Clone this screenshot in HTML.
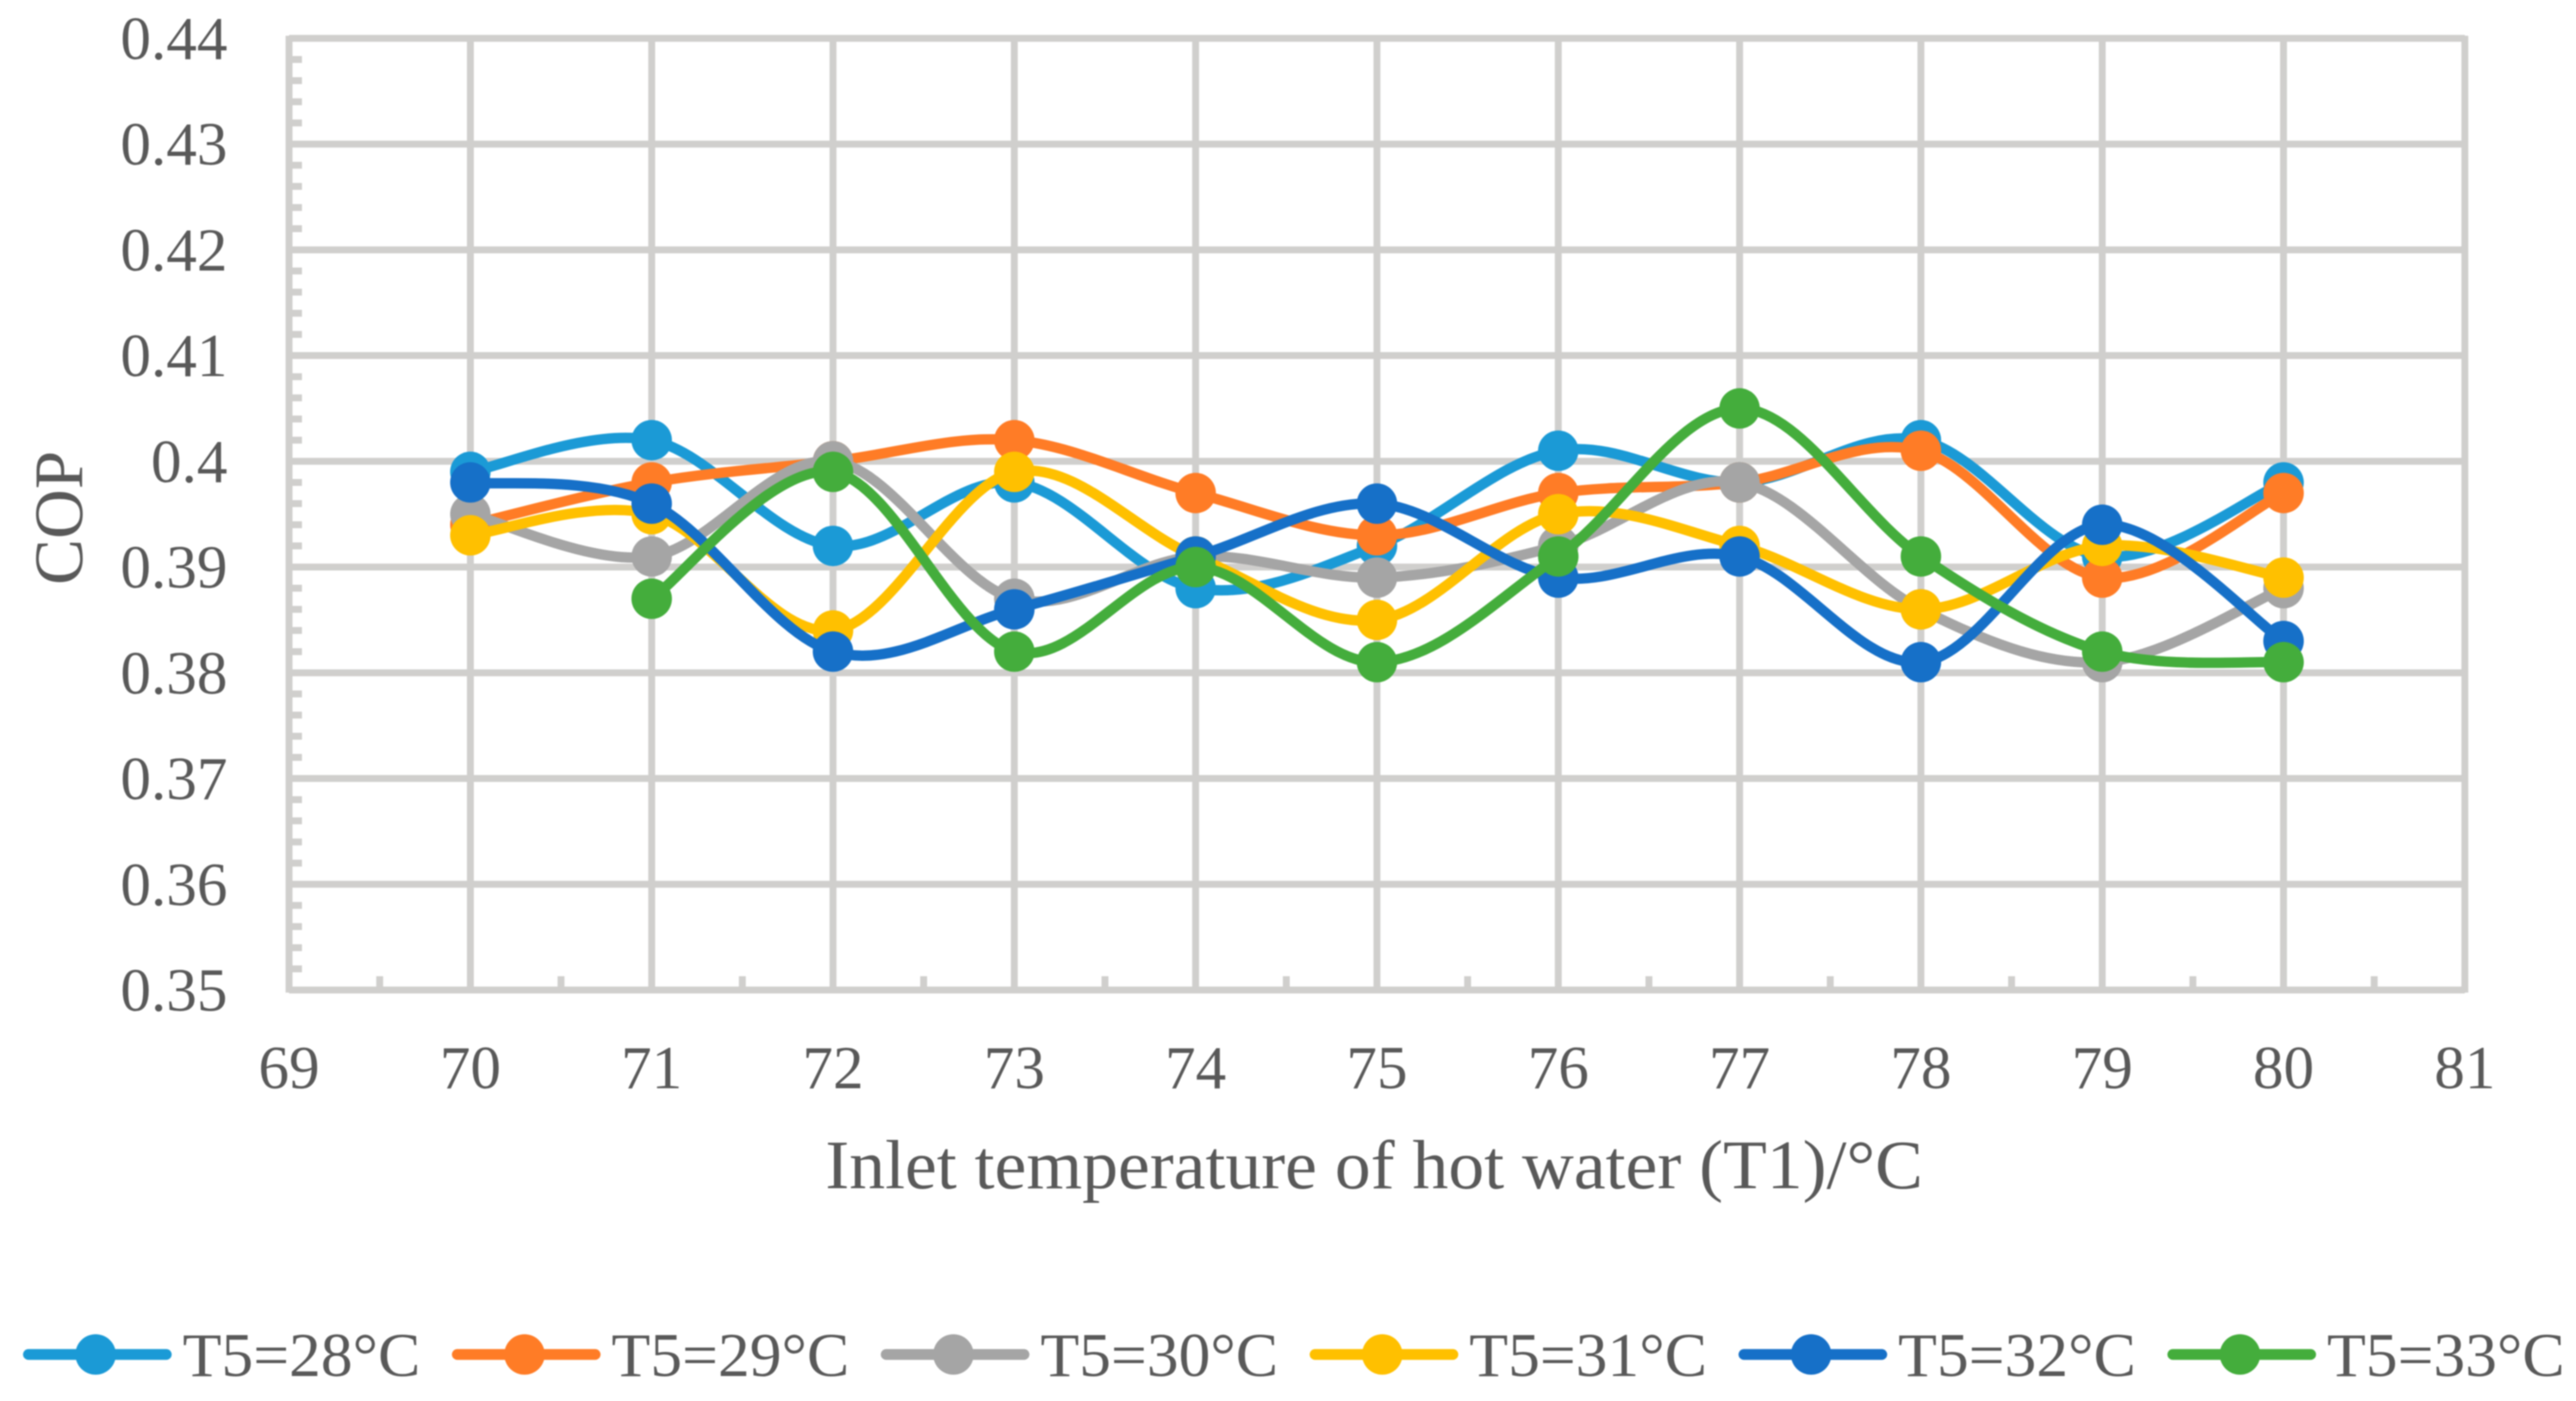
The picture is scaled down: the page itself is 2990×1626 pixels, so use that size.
<!DOCTYPE html>
<html lang="en">
<head>
<meta charset="utf-8">
<title>COP vs inlet temperature of hot water</title>
<style>
html,body{margin:0;padding:0;background:#fff;width:2990px;height:1626px;overflow:hidden}
svg{display:block;filter:blur(0.8px)}
text{font-family:"Liberation Serif",serif;fill:#595959}
</style>
</head>
<body>
<svg id="chart" width="2990" height="1626" viewBox="0 0 2990 1626" xmlns="http://www.w3.org/2000/svg">
<rect width="2990" height="1626" fill="#fff"/>
<g id="grid"></g>
<g id="ticks"></g>
<text x="1595" y="1379" text-anchor="middle" font-size="80" textLength="1274" lengthAdjust="spacingAndGlyphs">Inlet temperature of hot water (T1)/°C</text>
<text transform="translate(95 601) rotate(-90)" text-anchor="middle" font-size="80">COP</text>
<g id="series"></g>
<g id="legend"></g>
</svg>
<script>
const xCategories = [70, 71, 72, 73, 74, 75, 76, 77, 78, 79, 80];
const xTickLabels = ['69','70','71','72','73','74','75','76','77','78','79','80','81'];
const yTickLabels = ['0.35','0.36','0.37','0.38','0.39','0.4','0.41','0.42','0.43','0.44'];
const seriesNames = ['T5=28°C','T5=29°C','T5=30°C','T5=31°C','T5=32°C','T5=33°C'];
const seriesColors = ['#1b9ad6','#ff7c26','#a5a5a5','#ffc000','#1670c8','#44ad3c'];
const t28 = [0.399,0.402,0.392,0.398,0.388,0.392,0.401,0.398,0.402,0.391,0.398];
const t29 = [0.394,0.398,0.400,0.402,0.397,0.393,0.397,0.398,0.401,0.389,0.397];
const t30 = [0.395,0.391,0.400,0.387,0.391,0.389,0.392,0.398,0.386,0.381,0.388];
const t31 = [0.393,0.395,0.384,0.399,0.391,0.385,0.395,0.392,0.386,0.392,0.389];
const t32 = [0.398,0.396,0.382,0.386,0.391,0.396,0.389,0.391,0.381,0.394,0.383];
const t33 = [null,0.387,0.399,0.382,0.390,0.381,0.391,0.405,0.391,0.382,0.381];
const allSeries = [t28, t29, t30, t31, t32, t33];

const NS = 'http://www.w3.org/2000/svg';
const plot = {left: 335.5, right: 2861, top: 44.5, bottom: 1149};
const domainX = [69, 81];
const domainY = [0.35, 0.44];
const GRID = '#d0cfcd';
function xScale(v){ return plot.left + (v - domainX[0]) / (domainX[1] - domainX[0]) * (plot.right - plot.left); }
function yScale(v){ return plot.bottom - (v - domainY[0]) / (domainY[1] - domainY[0]) * (plot.bottom - plot.top); }
function make(tag, attrs, parent){
  const el = document.createElementNS(NS, tag);
  for (const k in attrs) el.setAttribute(k, attrs[k]);
  parent.appendChild(el);
  return el;
}
const gridG = document.getElementById('grid');
const ticksG = document.getElementById('ticks');
const seriesG = document.getElementById('series');
const legendG = document.getElementById('legend');

yTickLabels.forEach(function(label, i){
  const v = parseFloat(label);
  const y = yScale(v);
  const line = make('line', {x1: plot.left, x2: plot.right, y1: y, y2: y, stroke: GRID, 'stroke-width': 8}, gridG);
  
  
  const t = make('text', {x: 264, y: y + 24, 'text-anchor': 'end', 'font-size': 71}, ticksG);
  t.textContent = label;
  
  
  if (i < yTickLabels.length - 1) {
    const next = yScale(parseFloat(yTickLabels[i + 1]));
    for (let m = 1; m < 5; m++) {
      const my = y + (next - y) * m / 5;
      const tick = make('line', {x1: plot.left, x2: plot.left + 15, y1: my, y2: my, stroke: GRID, 'stroke-width': 8}, gridG);
      
      
    }
  }
});
xTickLabels.forEach(function(label, i){
  const v = parseFloat(label);
  const x = xScale(v);
  const line = make('line', {x1: x, x2: x, y1: plot.top - 3, y2: plot.bottom + 3, stroke: GRID, 'stroke-width': 8}, gridG);
  
  
  const t = make('text', {x: x, y: 1263, 'text-anchor': 'middle', 'font-size': 71}, ticksG);
  t.textContent = label;
  
  
  if (i < xTickLabels.length - 1) {
    const mx = xScale(v + 0.5);
    const tick = make('line', {x1: mx, x2: mx, y1: plot.bottom - 16, y2: plot.bottom, stroke: GRID, 'stroke-width': 8}, gridG);
    
    
  }
});

function smoothPath(pts){
  let d = 'M' + pts[0][0] + ' ' + pts[0][1];
  for (let i = 0; i < pts.length - 1; i++) {
    const p0 = pts[Math.max(i - 1, 0)], p1 = pts[i], p2 = pts[i + 1], p3 = pts[Math.min(i + 2, pts.length - 1)];
    const c1x = p1[0] + (p2[0] - p0[0]) / 6, c1y = p1[1] + (p2[1] - p0[1]) / 6;
    const c2x = p2[0] - (p3[0] - p1[0]) / 6, c2y = p2[1] - (p3[1] - p1[1]) / 6;
    d += ' C' + c1x + ' ' + c1y + ' ' + c2x + ' ' + c2y + ' ' + p2[0] + ' ' + p2[1];
  }
  return d;
}

allSeries.forEach(function(values, s){
  const color = seriesColors[s];
  const group = make('g', {}, seriesG);
  
  
  const pts = [];
  values.forEach(function(v, i){
    if (v !== null) pts.push([xScale(xCategories[i]), yScale(v)]);
  });
  const path = make('path', {d: smoothPath(pts), fill: 'none', stroke: color, 'stroke-width': 12, 'stroke-linecap': 'round', 'stroke-linejoin': 'round'}, group);
  
  
  pts.forEach(function(p){
    const c = make('circle', {cx: p[0], cy: p[1], r: 23.5, fill: color}, group);
    
    
  });
});

seriesNames.forEach(function(name, i){
  const x0 = 27 + i * 497.8;
  const g = make('g', {}, legendG);
  
  
  const l = make('line', {x1: x0 + 6, x2: x0 + 166, y1: 1572, y2: 1572, stroke: seriesColors[i], 'stroke-width': 12.5, 'stroke-linecap': 'round'}, g);
  
  
  const c = make('circle', {cx: x0 + 84, cy: 1572, r: 23.5, fill: seriesColors[i]}, g);
  
  
  const t = make('text', {x: x0 + 185, y: 1597, 'font-size': 72, textLength: 276, lengthAdjust: 'spacingAndGlyphs'}, g);
  t.textContent = name;
  
  
});
</script>
</body>
</html>
